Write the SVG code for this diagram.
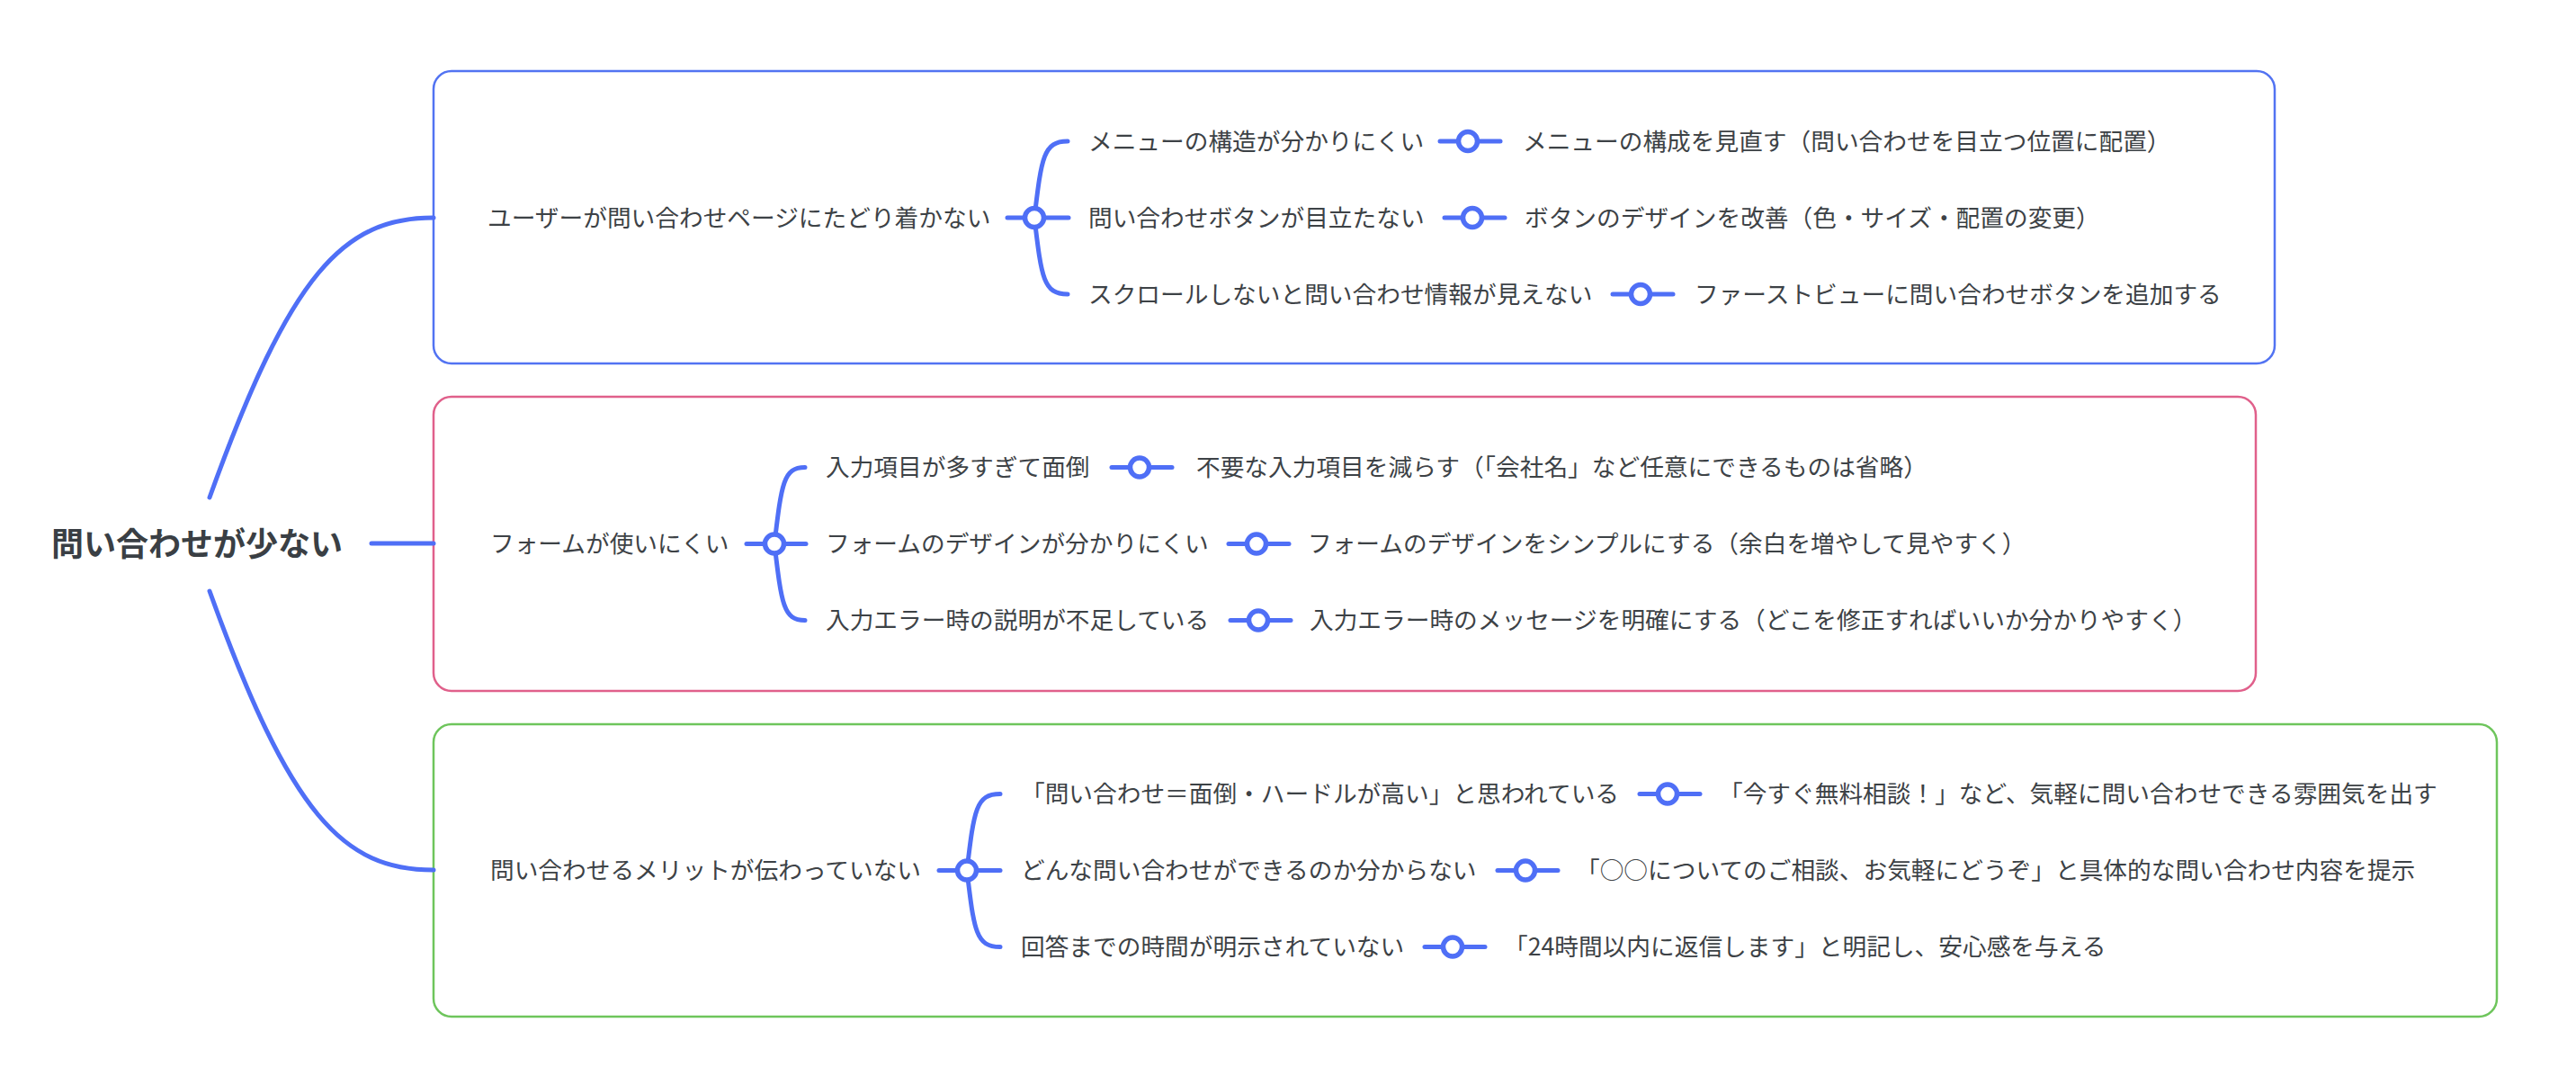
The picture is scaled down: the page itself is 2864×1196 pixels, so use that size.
<svg xmlns="http://www.w3.org/2000/svg" width="2864" height="1196" viewBox="0 0 2864 1196">
<style>
  .t { font-family: "Noto Sans CJK JP", "Noto Sans", sans-serif; font-size: 26.7px; fill: #3d4246; dominant-baseline: central; }
  .root { font-family: "Noto Sans CJK JP", "Noto Sans", sans-serif; font-size: 36px; font-weight: bold; fill: #3a3f44; dominant-baseline: central; }
  .box { fill: #ffffff; stroke-width: 2.5; }
  .c { fill: none; stroke: #4f6ff6; stroke-linecap: round; stroke-width: 5; }
  .ring { fill: #ffffff; stroke: #4f6ff6; stroke-width: 5.5; }
</style>
<rect width="2864" height="1196" fill="#ffffff"/>

<g id="box-1"><rect class="box" x="482" y="79" width="2047" height="325" rx="20" stroke="#5273f2"/></g>
<g id="box-2"><rect class="box" x="482" y="441" width="2026" height="327" rx="20" stroke="#e0608b"/></g>
<g id="box-3"><rect class="box" x="482" y="805" width="2294" height="325" rx="20" stroke="#6ec55c"/></g>

<g id="connectors">
  <path class="c" d="M233,553 C323,303 382,242 482,242"/>
  <path class="c" d="M233,657 C323,907 382,967 482,967"/>
  <path class="c" d="M413,604 L482,604"/>
  <path class="c" d="M1120,242 L1188,242"/>
  <path class="c" d="M1150,242 C1158,175 1160,157 1187,157"/>
  <path class="c" d="M1150,242 C1158,309 1160,327 1187,327"/>
  <path class="c" d="M1601,157 L1668,157"/>
  <path class="c" d="M1606,242 L1673,242"/>
  <path class="c" d="M1793,327 L1860,327"/>
  <path class="c" d="M830,604.5 L896,604.5"/>
  <path class="c" d="M861,604.5 C869,537 871,519.5 895,519.5"/>
  <path class="c" d="M861,604.5 C869,672 871,689.5 895,689.5"/>
  <path class="c" d="M1236,519.5 L1303,519.5"/>
  <path class="c" d="M1366,604.5 L1433,604.5"/>
  <path class="c" d="M1368,689.5 L1435,689.5"/>
  <path class="c" d="M1044,967.5 L1112,967.5"/>
  <path class="c" d="M1075,967.5 C1083,900 1085,882.5 1112,882.5"/>
  <path class="c" d="M1075,967.5 C1083,1035 1085,1052.5 1112,1052.5"/>
  <path class="c" d="M1823,882.5 L1890,882.5"/>
  <path class="c" d="M1665,967.5 L1732,967.5"/>
  <path class="c" d="M1584,1052.5 L1651,1052.5"/>
  <circle class="ring" cx="1150" cy="242" r="10.5"/>
  <circle class="ring" cx="1632" cy="157" r="10.5"/>
  <circle class="ring" cx="1637" cy="242" r="10.5"/>
  <circle class="ring" cx="1824" cy="327" r="10.5"/>
  <circle class="ring" cx="861" cy="604.5" r="10.5"/>
  <circle class="ring" cx="1267" cy="519.5" r="10.5"/>
  <circle class="ring" cx="1397" cy="604.5" r="10.5"/>
  <circle class="ring" cx="1399" cy="689.5" r="10.5"/>
  <circle class="ring" cx="1075" cy="967.5" r="10.5"/>
  <circle class="ring" cx="1854" cy="882.5" r="10.5"/>
  <circle class="ring" cx="1696" cy="967.5" r="10.5"/>
  <circle class="ring" cx="1615" cy="1052.5" r="10.5"/>
</g>

<g transform="translate(0,-2)">
<g id="root"><text class="root" x="57" y="604">問い合わせが少ない</text></g>

<g id="n1"><text class="t" x="542" y="242">ユーザーが問い合わせページにたどり着かない</text></g>
<g id="n1-1"><text class="t" x="1210" y="157">メニューの構造が分かりにくい</text></g>
<g id="n1-1-1"><text class="t" x="1693" y="157">メニューの構成を見直す（問い合わせを目立つ位置に配置）</text></g>
<g id="n1-2"><text class="t" x="1210" y="242">問い合わせボタンが目立たない</text></g>
<g id="n1-2-1"><text class="t" x="1695" y="242">ボタンのデザインを改善（色・サイズ・配置の変更）</text></g>
<g id="n1-3"><text class="t" x="1210" y="327">スクロールしないと問い合わせ情報が見えない</text></g>
<g id="n1-3-1"><text class="t" x="1884" y="327">ファーストビューに問い合わせボタンを追加する</text></g>

<g id="n2"><text class="t" x="545" y="604.5">フォームが使いにくい</text></g>
<g id="n2-1"><text class="t" x="918" y="519.5">入力項目が多すぎて面倒</text></g>
<g id="n2-1-1"><text class="t" x="1330" y="519.5">不要な入力項目を減らす（「会社名」など任意にできるものは省略）</text></g>
<g id="n2-2"><text class="t" x="918" y="604.5">フォームのデザインが分かりにくい</text></g>
<g id="n2-2-1"><text class="t" x="1454" y="604.5">フォームのデザインをシンプルにする（余白を増やして見やすく）</text></g>
<g id="n2-3"><text class="t" x="918" y="689.5">入力エラー時の説明が不足している</text></g>
<g id="n2-3-1"><text class="t" x="1456" y="689.5">入力エラー時のメッセージを明確にする（どこを修正すればいいか分かりやすく）</text></g>

<g id="n3"><text class="t" x="545" y="967.5">問い合わせるメリットが伝わっていない</text></g>
<g id="n3-1"><text class="t" x="1135" y="882.5">「問い合わせ＝面倒・ハードルが高い」と思われている</text></g>
<g id="n3-1-1"><text class="t" x="1911" y="882.5">「今すぐ無料相談！」など、気軽に問い合わせできる雰囲気を出す</text></g>
<g id="n3-2"><text class="t" x="1135" y="967.5">どんな問い合わせができるのか分からない</text></g>
<g id="n3-2-1"><text class="t" x="1752" y="967.5">「○○についてのご相談、お気軽にどうぞ」と具体的な問い合わせ内容を提示</text></g>
<g id="n3-3"><text class="t" x="1135" y="1052.5">回答までの時間が明示されていない</text></g>
<g id="n3-3-1"><text class="t" x="1672" y="1052.5">「24時間以内に返信します」と明記し、安心感を与える</text></g>
</g>
</svg>
